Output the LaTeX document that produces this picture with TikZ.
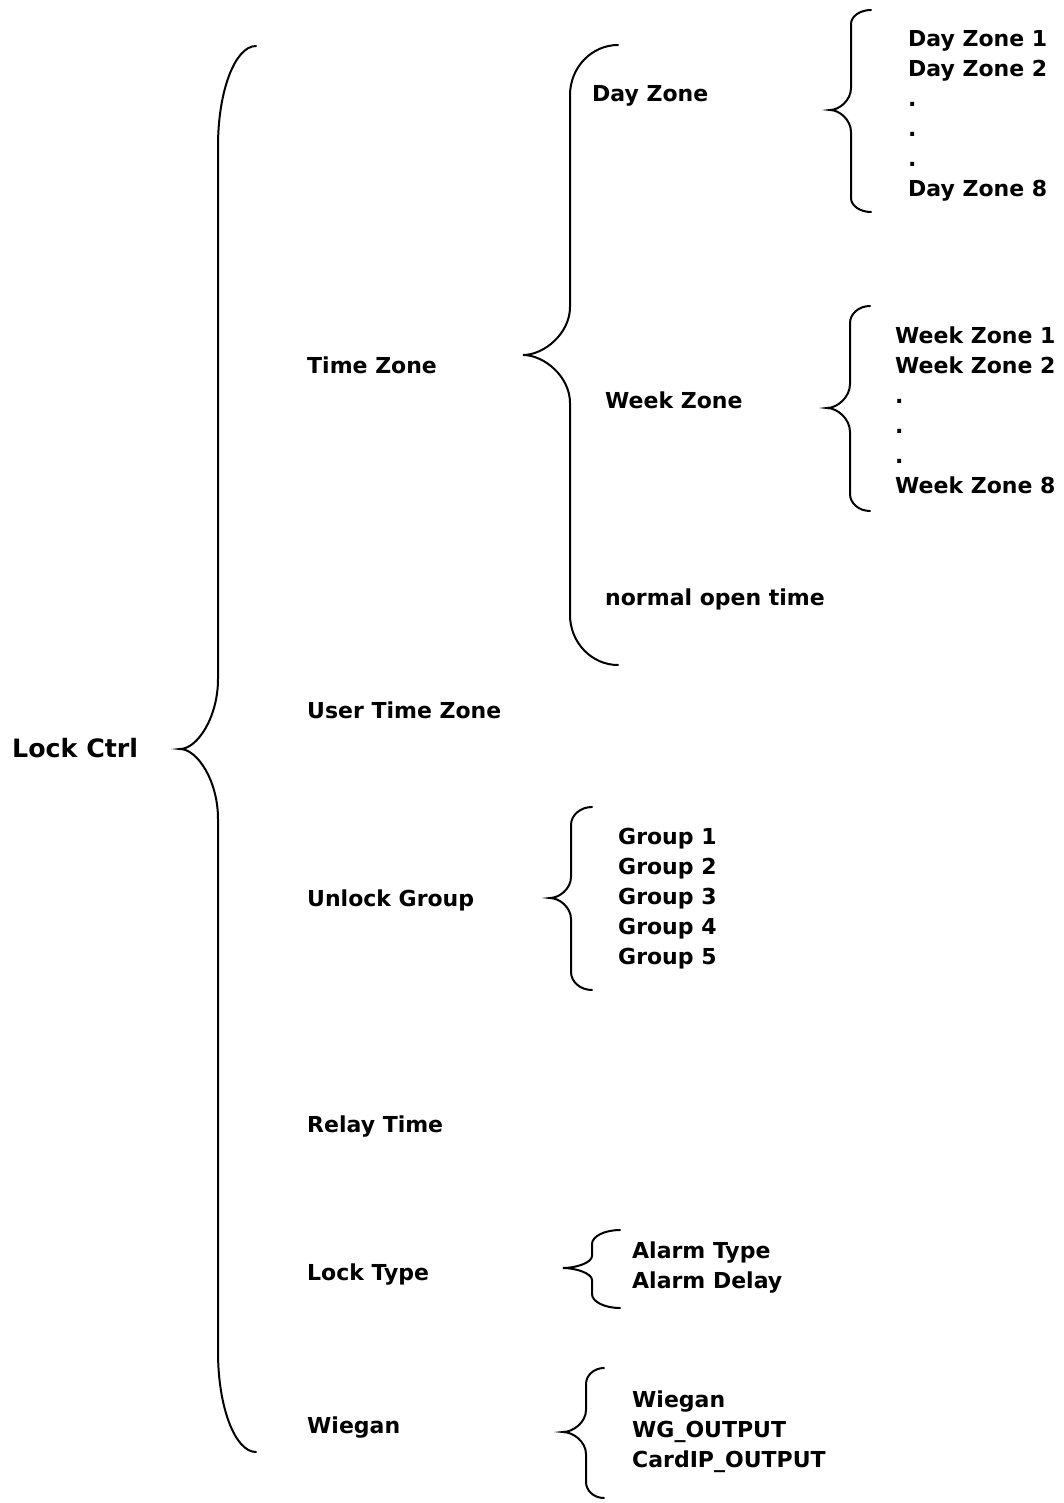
\documentclass[tikz,border=0pt]{standalone}
\usepackage{fontspec}
\setmainfont{DejaVu Sans}

% brace: x ends, x stem, x tip, y top, y tip, y bottom, end arc height, tip bend height
\newcommand{\drawbrace}[8]{%
  \draw[brc] (#1,#4) .. controls ({#2+0.45*(#1-#2)},#4) and (#2,{#4+0.45*#7}) .. (#2,{#4+#7})
    -- (#2,{#5-#8})
    .. controls (#2,{#5-0.45*#8}) and ({#3+0.45*(#2-#3)},#5) .. (#3,#5)
    .. controls ({#3+0.45*(#2-#3)},#5) and (#2,{#5+0.45*#8}) .. (#2,{#5+#8})
    -- (#2,{#6-#7})
    .. controls (#2,{#6-0.45*#7}) and ({#2+0.45*(#1-#2)},#6) .. (#1,#6);}

\begin{document}
\begin{tikzpicture}[x=1pt, y=-1pt,
  item/.style={anchor=base west, inner sep=0pt, font=\fontsize{22}{24}\selectfont\bfseries},
  brc/.style={line width=2pt, line cap=round}
]
  \useasboundingbox (0,0) rectangle (1064,1503);

  \node[item, font=\fontsize{25.3}{28}\selectfont\bfseries] (lock) at (12,757) {Lock Ctrl};
  \drawbrace{256}{218}{180}{46}{749}{1452}{100}{70}

  \node[item] (tz)  at (307,373)  {Time Zone};
  \node[item] (utz) at (307,718)  {User Time Zone};
  \node[item] (ug)  at (307,906)  {Unlock Group};
  \node[item] (rt)  at (307,1132) {Relay Time};
  \node[item] (lt)  at (307,1280) {Lock Type};
  \node[item] (wg)  at (307,1433) {Wiegan};

  % time zone
  \drawbrace{618}{570}{523}{45}{355}{665}{50}{48}
  \node[item] (dz)  at (592,102) {Day Zone};
  \node[item] (wz)  at (605,408) {Week Zone};
  \node[item] (not) at (605,605) {normal open time};

  \drawbrace{871}{851}{830}{10}{110}{212}{14}{22}
  \node[item] (dz1) at (908,47)  {Day Zone 1};
  \node[item] (dz2) at (908,77)  {Day Zone 2};
  \foreach \y [count=\i] in {107,137,167}
    \node[item] (dzd\i) at (908,\y) {.};
  \node[item] (dz8) at (908,197) {Day Zone 8};

  \drawbrace{870}{850}{827}{306}{408}{511}{17}{24}
  \node[item] (wz1) at (895,343) {Week Zone 1};
  \node[item] (wz2) at (895,373) {Week Zone 2};
  \foreach \y [count=\i] in {403,433,463}
    \node[item] (wzd\i) at (895,\y) {.};
  \node[item] (wz8) at (895,493) {Week Zone 8};

  % unlock group
  \drawbrace{592}{571}{550}{807}{898}{990}{18}{21}
  \foreach \y [count=\i] in {844,874,904,934,964}
    \node[item] (g\i) at (618,\y) {Group \i};

  % lock type
  \drawbrace{620}{592}{563}{1230}{1268}{1308}{14}{12}
  \node[item] (at) at (632,1258) {Alarm Type};
  \node[item] (ad) at (632,1288) {Alarm Delay};

  % wiegan
  \drawbrace{604}{586}{563}{1368}{1432}{1498}{16}{22}
  \node[item] (wg1) at (632,1407) {Wiegan};
  \node[item] (wg2) at (632,1437) {WG\_OUTPUT};
  \node[item] (wg3) at (632,1467) {CardIP\_OUTPUT};
\end{tikzpicture}
\end{document}
